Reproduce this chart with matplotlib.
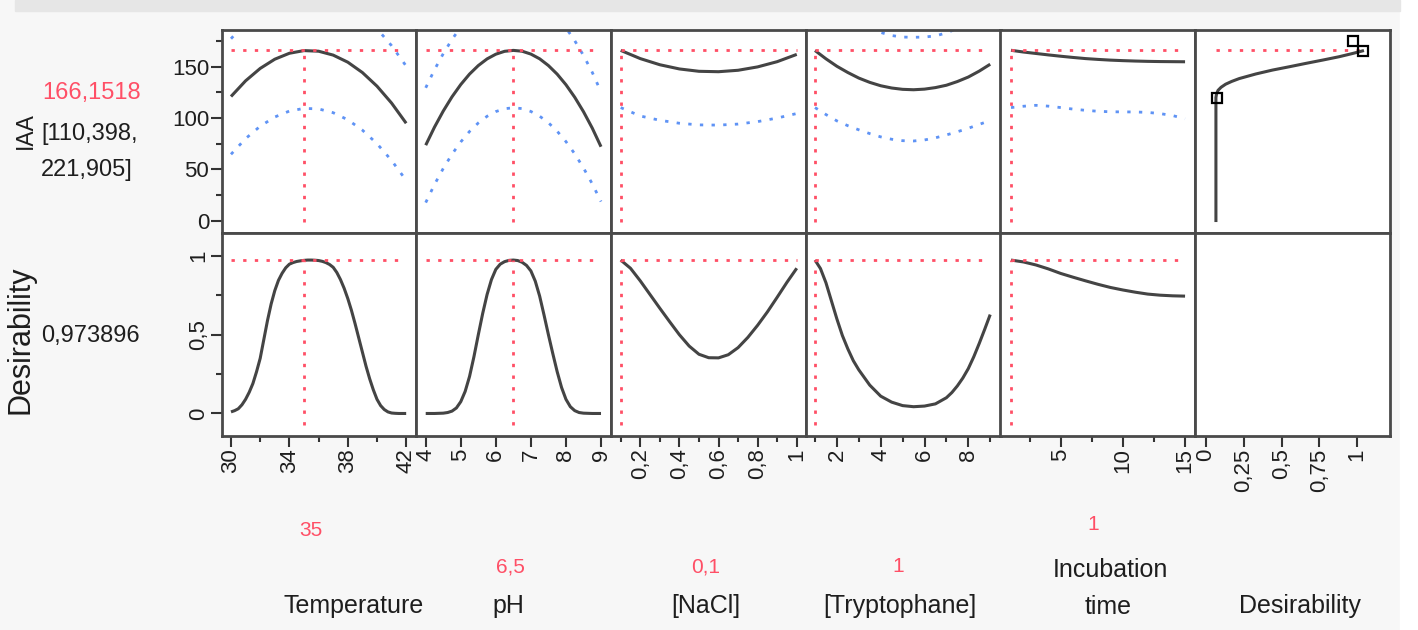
import matplotlib
matplotlib.use("Agg")
import matplotlib.pyplot as plt
from matplotlib.patches import Rectangle

# current factor settings and readouts
temp_now, ph_now, nacl_now, tryp_now, inc_now = 35, 6.5, 0.1, 1, 1
iaa_now = 166.1518
des_now = 0.973896

# IAA profiles (prediction, lower and upper confidence)
temp_x = [30, 31, 32, 33, 34, 35, 36, 37, 38, 39, 40, 41, 42]
temp_iaa = [121.0, 136.3, 148.4, 157.4, 163.2, 165.8, 165.2, 161.4, 154.5, 144.4, 131.1, 114.6, 94.9]
temp_lo = [64.6, 79.9, 92.0, 101.0, 106.8, 109.4, 108.9, 105.2, 98.3, 88.2, 75.0, 58.6, 39.1]
temp_hi = [177.4, 192.7, 204.8, 213.8, 219.6, 222.2, 221.5, 217.6, 210.7, 200.6, 187.2, 170.6, 150.7]

ph_x = [4.0, 4.25, 4.5, 4.75, 5.0, 5.25, 5.5, 5.75, 6.0, 6.25, 6.5, 6.75, 7.0, 7.25, 7.5, 7.75, 8.0, 8.25, 8.5, 8.75, 9.0]
ph_iaa = [73.5, 91.1, 106.8, 120.7, 132.7, 142.9, 151.2, 157.7, 162.3, 165.1, 166.0, 165.2, 162.4, 157.8, 151.2, 142.8, 132.5, 120.3, 106.2, 90.2, 72.0]
ph_lo = [17.5, 35.1, 50.8, 64.7, 76.7, 86.9, 95.2, 101.7, 106.3, 109.1, 110.0, 109.2, 106.4, 101.8, 95.4, 87.1, 77.0, 65.1, 51.3, 35.8, 18.5]
ph_hi = [129.5, 147.1, 162.8, 176.7, 188.7, 198.9, 207.2, 213.7, 218.3, 221.1, 222.0, 221.2, 218.4, 213.8, 207.0, 198.5, 188.0, 175.5, 161.1, 144.6, 125.5]

nacl_x = [0.1, 0.2, 0.3, 0.4, 0.5, 0.6, 0.7, 0.8, 0.9, 1.0]
nacl_iaa = [166.0, 158.0, 152.0, 147.9, 145.6, 145.2, 146.6, 149.9, 155.0, 162.1]
nacl_lo = [110.2, 102.0, 97.8, 94.9, 93.3, 93.1, 94.1, 96.5, 100.0, 104.4]
nacl_hi = [221.6, 214.0, 206.2, 200.9, 197.9, 197.3, 199.1, 203.3, 210.0, 219.8]

tryp_x = [1, 1.5, 2, 2.5, 3, 3.5, 4, 4.5, 5, 5.5, 6, 6.5, 7, 7.5, 8, 8.5, 9]
tryp_iaa = [165.9, 157.8, 150.5, 144.4, 139.0, 134.8, 131.5, 129.3, 128.0, 127.6, 128.2, 129.7, 132.0, 135.6, 140.0, 145.8, 152.5]
tryp_lo = [110.2, 103.4, 97.2, 92.5, 88.5, 84.8, 81.6, 79.3, 77.9, 77.6, 78.6, 80.7, 83.5, 86.6, 90.0, 93.8, 97.6]
tryp_hi = [221.6, 212.2, 203.8, 196.3, 189.5, 187.5, 183.5, 180.5, 179.0, 178.8, 179.0, 180.2, 183.0, 187.5, 190.0, 197.8, 207.4]

inc_x = [1, 2, 3, 4, 5, 6, 7, 8, 9, 10, 11, 12, 13, 14, 15]
inc_iaa = [166.1, 164.4, 163.0, 161.6, 160.3, 159.1, 158.0, 157.2, 156.5, 156.0, 155.6, 155.3, 155.1, 155.0, 154.9]
inc_lo = [110.2, 111.5, 112.4, 111.6, 110.2, 108.7, 107.5, 106.6, 106.1, 106.0, 105.9, 105.5, 104.3, 102.4, 99.3]
inc_hi = [222.0, 217.3, 213.6, 211.6, 210.4, 209.5, 208.5, 207.8, 206.9, 206.0, 205.3, 205.1, 205.9, 207.6, 210.5]

# desirability function of IAA
des_fn_d = [0.066, 0.066, 0.07, 0.08, 0.10, 0.13, 0.17, 0.22, 0.33, 0.44, 0.55, 0.66, 0.77, 0.88, 0.97, 1.035]
des_fn_iaa = [0, 120, 123.5, 127, 130, 133, 135.7, 138.5, 143, 146.8, 150, 153.3, 156.5, 159.8, 163, 165.5]
des_pts_d = [0.075, 0.97, 1.04]
des_pts_iaa = [120, 175.4, 165]

# desirability profiles
temp_dx = [30.0, 30.25, 30.5, 30.75, 31.0, 31.25, 31.5, 31.75, 32.0, 32.25, 32.5, 32.75, 33.0,
           33.25, 33.5, 33.75, 34.0, 34.25, 34.5, 34.75, 35.0, 35.25, 35.5, 35.75, 36.0,
           36.25, 36.5, 36.75, 37.0, 37.25, 37.5, 37.75, 38.0, 38.25, 38.5, 38.75, 39.0,
           39.25, 39.5, 39.75, 40.0, 40.25, 40.5, 40.75, 41.0, 41.25, 41.5, 41.75, 42.0]
temp_d = [0.010, 0.018, 0.030, 0.055, 0.090, 0.135, 0.190, 0.265, 0.350, 0.470, 0.590, 0.695, 0.780,
          0.845, 0.890, 0.925, 0.948, 0.958, 0.965, 0.969, 0.972, 0.974, 0.974, 0.973, 0.971,
          0.966, 0.958, 0.946, 0.928, 0.895, 0.850, 0.795, 0.730, 0.655, 0.570, 0.480, 0.390,
          0.300, 0.220, 0.150, 0.090, 0.050, 0.025, 0.010, 0.003, 0.001, 0.0, 0.0, 0.0]
ph_dx = [4.0, 4.25, 4.5, 4.625, 4.75, 4.875, 5.0, 5.125, 5.25, 5.375, 5.5, 5.625, 5.75, 5.875, 6.0,
         6.125, 6.25, 6.375, 6.5, 6.625, 6.75, 6.875, 7.0, 7.125, 7.25, 7.375, 7.5, 7.625, 7.75,
         7.875, 8.0, 8.125, 8.25, 8.375, 8.5, 8.75, 9.0]
ph_d = [0.0, 0.0, 0.002, 0.006, 0.015, 0.035, 0.075, 0.14, 0.235, 0.36, 0.50, 0.635, 0.755, 0.85, 0.915,
        0.948, 0.964, 0.972, 0.974, 0.971, 0.96, 0.94, 0.905, 0.84, 0.745, 0.625, 0.50, 0.38, 0.265,
        0.165, 0.09, 0.043, 0.018, 0.006, 0.002, 0.0, 0.0]
nacl_dx = [0.1, 0.15, 0.2, 0.25, 0.3, 0.35, 0.4, 0.45, 0.5, 0.55, 0.6, 0.65, 0.7, 0.75, 0.8, 0.85, 0.9, 0.95, 1.0]
nacl_d = [0.974, 0.922, 0.842, 0.755, 0.668, 0.583, 0.50, 0.428, 0.376, 0.354, 0.353, 0.373, 0.418, 0.483, 0.56, 0.645, 0.738, 0.833, 0.922]
tryp_dx = [1.0, 1.25, 1.5, 1.75, 2.0, 2.25, 2.5, 2.75, 3.0, 3.5, 4.0, 4.5, 5.0, 5.5, 6.0, 6.5, 7.0,
           7.25, 7.5, 7.75, 8.0, 8.25, 8.5, 8.75, 9.0]
tryp_d = [0.974, 0.92, 0.83, 0.715, 0.60, 0.495, 0.41, 0.335, 0.277, 0.18, 0.11, 0.072, 0.05, 0.043, 0.047, 0.061, 0.10,
          0.133, 0.175, 0.225, 0.285, 0.36, 0.445, 0.535, 0.628]
inc_d = [0.974, 0.962, 0.943, 0.918, 0.889, 0.865, 0.842, 0.82, 0.80, 0.784, 0.77, 0.758, 0.751, 0.747, 0.745]

factor_names = ["Temperature", "pH", "[NaCl]", "[Tryptophane]", "Incubation", "time", "Desirability"]
factor_now = ["35", "6,5", "0,1", "1", "1"]

# ---- style ----
plt.rcParams["font.family"] = "Liberation Sans"

W, H = 1418, 630
RED = "#ff4f66"
BLUE = "#5f93f5"
CURVE = "#444444"
FRAME = "#4a4a4a"
TXT = "#1e1e1e"

fig = plt.figure(figsize=(W / 100, H / 100), dpi=100)
fig.patch.set_facecolor("#f7f7f7")
fig.patches.append(Rectangle((1400 / W, 0), 18 / W, 1, transform=fig.transFigure, color="white", zorder=0))
fig.patches.append(Rectangle((15 / W, 1 - 11 / H), 1385 / W, 11 / H, transform=fig.transFigure, color="#e6e6e6", zorder=0))


def fpos(x, y):
    return x / W, 1 - y / H


col_edges = [221.5 + i * 194.75 for i in range(7)]
row_edges = [30, 232.5, 436]

xlims = [(29.35, 42.69), (3.73, 9.285), (0.0504, 1.046), (0.578, 9.47), (0.155, 15.82), (-0.0707, 1.217)]
ylims = [(-11.7, 185.9), (-0.143, 1.149)]

xmaj = [[30, 34, 38, 42], [4, 5, 6, 7, 8, 9], [0.2, 0.4, 0.6, 0.8, 1.0], [2, 4, 6, 8], [5, 10, 15], [0, 0.25, 0.5, 0.75, 1]]
xmaj_lbl = [["30", "34", "38", "42"], ["4", "5", "6", "7", "8", "9"], ["0,2", "0,4", "0,6", "0,8", "1"],
            ["2", "4", "6", "8"], ["5", "10", "15"], ["0", "0,25", "0,5", "0,75", "1"]]
xmin = [[32, 36, 40], [], [0.1, 0.3, 0.5, 0.7, 0.9], [1, 3, 5, 7, 9], [2.5, 7.5, 12.5], []]

top_series = [(temp_x, temp_iaa, temp_lo, temp_hi, temp_now),
              (ph_x, ph_iaa, ph_lo, ph_hi, ph_now),
              (nacl_x, nacl_iaa, nacl_lo, nacl_hi, nacl_now),
              (tryp_x, tryp_iaa, tryp_lo, tryp_hi, tryp_now),
              (inc_x, inc_iaa, inc_lo, inc_hi, inc_now)]
bot_series = [(temp_dx, temp_d), (ph_dx, ph_d), (nacl_dx, nacl_d), (tryp_dx, tryp_d), (inc_x, inc_d)]

dots = dict(lw=2.0, dashes=(1.2, 3.0))

axes = [[None] * 6 for _ in range(2)]
for r in range(2):
    for c in range(6):
        x0, x1 = col_edges[c], col_edges[c + 1]
        y0, y1 = row_edges[r], row_edges[r + 1]
        ax = fig.add_axes([x0 / W, 1 - y1 / H, (x1 - x0) / W, (y1 - y0) / H])
        ax.set_facecolor("white")
        ax.set_xlim(*xlims[c])
        ax.set_ylim(*ylims[r])
        for s in ax.spines.values():
            s.set_color(FRAME)
            s.set_linewidth(2.0)
        ax.tick_params(which="both", direction="out", color="#333333", width=1.5,
                       labelsize=16, labelcolor=TXT)
        ax.tick_params(which="major", length=8, pad=1)
        ax.tick_params(which="minor", length=4.5)
        if r == 1:
            ax.set_xticks(xmaj[c])
            ax.set_xticklabels(xmaj_lbl[c], rotation=90)
            ax.set_xticks(xmin[c], minor=True)
        else:
            ax.set_xticks([])
        if c == 0 and r == 0:
            ax.set_yticks([0, 50, 100, 150])
            ax.set_yticklabels(["0", "50", "100", "150"])
            ax.set_yticks([25, 75, 125, 175], minor=True)
        elif c == 0 and r == 1:
            ax.set_yticks([0, 0.5, 1])
            ax.set_yticklabels(["0", "0,5", "1"], rotation=90, va="center")
            ax.set_yticks([0.25, 0.75], minor=True)
        else:
            ax.set_yticks([])
        axes[r][c] = ax

# top row: IAA profiles
for c, (xs, ys, lo, hi, now) in enumerate(top_series):
    ax = axes[0][c]
    ax.plot(xs, lo, color=BLUE, **dots)
    ax.plot(xs, hi, color=BLUE, **dots)
    ax.plot(xs, ys, color=CURVE, lw=2.2, solid_capstyle="butt")
    ax.plot([xs[0], xs[-1]], [iaa_now, iaa_now], color=RED, **dots)
    ax.plot([now, now], [-1.0, iaa_now], color=RED, **dots)

# bottom row: desirability profiles
for c, (xs, ds) in enumerate(bot_series):
    ax = axes[1][c]
    ax.plot(xs, ds, color=CURVE, lw=2.2, solid_capstyle="butt")
    now = top_series[c][4]
    ax.plot([xs[0], xs[-1]], [des_now, des_now], color=RED, **dots)
    ax.plot([now, now], [-0.075, des_now], color=RED, **dots)

# desirability function panel
ax = axes[0][5]
ax.plot([min(des_fn_d), max(des_fn_d)], [iaa_now, iaa_now], color=RED, **dots)
ax.plot(des_fn_d, des_fn_iaa, color=CURVE, lw=2.2)
ax.plot(des_pts_d, des_pts_iaa, ls="none", marker="s", ms=7, mfc="none", mec="black", mew=1.6)

# left readouts
fig.text(*fpos(25, 131), "IAA", rotation=90, ha="center", va="center", fontsize=16.5, color=TXT)
fig.text(*fpos(141, 93), "166,1518", ha="right", va="center", fontsize=17, color=RED)
fig.text(*fpos(41, 134), "[110,398,", ha="left", va="center", fontsize=17, color=TXT)
fig.text(*fpos(41, 170), "221,905]", ha="left", va="center", fontsize=17, color=TXT)
fig.text(*fpos(21, 340), "Desirability", rotation=90, ha="center", va="center", fontsize=22, color=TXT)
fig.text(*fpos(41, 336), "0,973896", ha="left", va="center", fontsize=17, color=TXT)

# bottom factor labels and current values
now_pos = [(311, 530), (510, 567), (706, 567), (898, 567), (1093, 525)]
for (x, y), s in zip(now_pos, factor_now):
    fig.text(*fpos(x, y), s, ha="center", va="center", fontsize=15, color=RED)

name_pos = [(354, 606), (508, 606), (706, 606), (900, 606), (1110, 570), (1108, 607), (1300, 606)]
for (x, y), s in zip(name_pos, factor_names):
    fig.text(*fpos(x, y), s, ha="center", va="center", fontsize=18, color=TXT)

fig.savefig("out.png", dpi=100, facecolor=fig.get_facecolor())
